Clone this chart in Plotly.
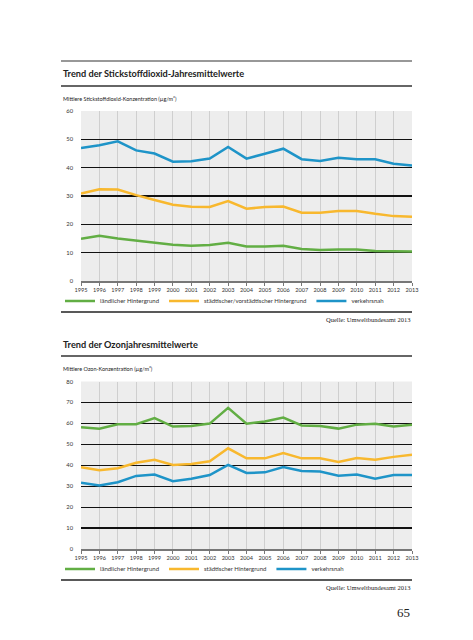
import plotly.graph_objects as go

W, H = 473, 640

years = list(range(1995, 2014))
year_labels = [str(y) for y in years]

# Stickstoffdioxid (µg/m³)
no2_laendlich = [14.9, 16.0, 15.0, 14.3, 13.6, 12.8, 12.4, 12.7, 13.5, 12.2, 12.2, 12.4, 11.3, 10.9, 11.1, 11.1, 10.6, 10.4, 10.4]
no2_staedtisch = [30.9, 32.4, 32.3, 30.3, 28.6, 26.9, 26.2, 26.1, 28.2, 25.5, 26.1, 26.3, 24.1, 24.1, 24.7, 24.7, 23.7, 22.9, 22.7]
no2_verkehr = [46.9, 47.9, 49.3, 46.1, 45.0, 42.1, 42.3, 43.2, 47.3, 43.2, 44.9, 46.7, 43.0, 42.4, 43.5, 43.0, 43.0, 41.4, 40.8]

# Ozon (µg/m³)
o3_laendlich = [58.2, 57.4, 59.6, 59.6, 62.5, 58.5, 58.8, 59.9, 67.4, 59.8, 60.9, 62.8, 59.0, 58.7, 57.5, 59.4, 59.8, 58.5, 59.4]
o3_staedtisch = [39.0, 37.6, 38.6, 41.2, 42.6, 40.1, 40.6, 41.9, 48.1, 43.3, 43.3, 45.8, 43.3, 43.3, 41.6, 43.5, 42.6, 44.0, 45.0]
o3_verkehr = [31.7, 30.3, 31.9, 34.9, 35.6, 32.4, 33.6, 35.3, 40.2, 36.3, 36.6, 39.2, 37.3, 37.0, 35.0, 35.6, 33.6, 35.3, 35.3]

GREEN = "#62ae44"
YELLOW = "#f8b82e"
BLUE = "#1e94c8"

SANS = "Lato, Roboto, sans-serif"
SERIF = "Liberation Serif, DejaVu Serif, serif"


def px_x(p):
    return p / W


def px_y(p):
    return 1 - p / H


fig = go.Figure()

series1 = [("ländlicher Hintergrund", no2_laendlich, GREEN),
           ("städtischer/vorstädtischer Hintergrund", no2_staedtisch, YELLOW),
           ("verkehrsnah", no2_verkehr, BLUE)]
series2 = [("ländlicher Hintergrund", o3_laendlich, GREEN),
           ("städtischer Hintergrund", o3_staedtisch, YELLOW),
           ("verkehrsnah", o3_verkehr, BLUE)]

for name, vals, col in series1:
    fig.add_trace(go.Scatter(x=years, y=vals, name=name, mode="lines",
                             line=dict(color=col, width=2.5),
                             xaxis="x", yaxis="y", legend="legend"))
for name, vals, col in series2:
    fig.add_trace(go.Scatter(x=years, y=vals, name=name, mode="lines",
                             line=dict(color=col, width=2.5),
                             xaxis="x2", yaxis="y2", legend="legend2"))

xdom = [px_x(81), px_x(412)]


def xaxis_def(anchor):
    return dict(domain=xdom, range=[1995, 2013], anchor=anchor,
                tickmode="array", tickvals=years, ticktext=year_labels,
                showgrid=True, gridcolor="#cfcfcf", gridwidth=1,
                zeroline=False, showline=True, linecolor="#777777", linewidth=1.5,
                ticks="outside", ticklen=3, tickcolor="#777777", tickwidth=1,
                tickfont=dict(family=SANS, size=5.6, color="#333333"),
                automargin=False, fixedrange=True)


def yaxis_def(anchor, dom, top):
    return dict(domain=dom, range=[0, top], dtick=10, anchor=anchor,
                showgrid=True, gridcolor="#111111", gridwidth=1.2,
                zeroline=False, showline=False, ticks="",
                ticklabelstandoff=7,
                tickfont=dict(family=SANS, size=5.8, color="#333333"),
                automargin=False, fixedrange=True)


legend_common = dict(orientation="h", xanchor="left", yanchor="middle",
                     font=dict(family=SANS, size=6, color="#333333"),
                     bgcolor="rgba(0,0,0,0)", itemwidth=30)

fig.update_layout(
    width=W, height=H, autosize=False,
    margin=dict(l=0, r=0, t=0, b=0),
    paper_bgcolor="white", plot_bgcolor="#ededed",
    xaxis=xaxis_def("y"),
    yaxis=yaxis_def("x", [px_y(281), px_y(111)], 60),
    xaxis2=xaxis_def("y2"),
    yaxis2=yaxis_def("x2", [px_y(549), px_y(381.5)], 80),
    legend=dict(x=px_x(60), y=px_y(301), **legend_common),
    legend2=dict(x=px_x(60), y=px_y(569), **legend_common),
    showlegend=True,
    hovermode=False,
)

# Decorative rules
rules = [(61, 1.2, "#333333"), (86, 2, "#666666"), (312, 1.5, "#222222"),
         (356, 2, "#666666"), (580, 1.5, "#222222")]
for yy, wdt, col in rules:
    fig.add_shape(type="line", xref="paper", yref="paper",
                  x0=px_x(61), x1=px_x(412), y0=px_y(yy), y1=px_y(yy),
                  line=dict(color=col, width=wdt))

annos = [
    dict(text="<b>Trend der Stickstoffdioxid-Jahresmittelwerte</b>", x=61, y=74, size=9.2, fam=SANS, anchor="left"),
    dict(text="Mittlere Stickstoffdioxid-Konzentration (µg/m³)", x=61, y=99, size=5.5, fam=SANS, anchor="left"),
    dict(text="Quelle: Umweltbundesamt 2013", x=412, y=319, size=6.5, fam=SERIF, anchor="right"),
    dict(text="<b>Trend der Ozonjahresmittelwerte</b>", x=61, y=344, size=9.2, fam=SANS, anchor="left"),
    dict(text="Mittlere Ozon-Konzentration (µg/m³)", x=61, y=369, size=5.5, fam=SANS, anchor="left"),
    dict(text="Quelle: Umweltbundesamt 2013", x=412, y=587, size=6.5, fam=SERIF, anchor="right"),
    dict(text="65", x=412, y=612, size=13, fam=SERIF, anchor="right"),
]
for a in annos:
    fig.add_annotation(text=a["text"], xref="paper", yref="paper",
                       x=px_x(a["x"]), y=px_y(a["y"]), xanchor=a["anchor"], yanchor="middle",
                       showarrow=False, font=dict(family=a["fam"], size=a["size"], color="#222222"))

fig.write_html("out.html", config={"displayModeBar": False, "staticPlot": True},
               post_script="document.body.style.margin='0';")
